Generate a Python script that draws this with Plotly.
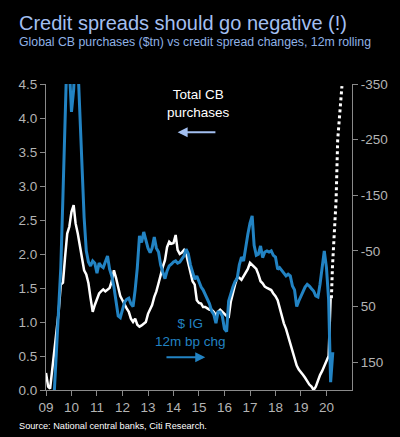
import plotly.graph_objects as go
import pandas as pd

# Monthly from Jan 2009
cb_purchases = [0.25, 0.05, 0.02, 0.3, 0.6, 0.85, 1.15, 1.55, 1.58, 1.95, 2.3, 2.4,
                2.62, 2.72, 2.45, 2.3, 2.1, 1.9, 1.76, 1.7, 1.57, 1.35, 1.15, 1.25,
                1.35, 1.42, 1.45, 1.48, 1.45, 1.47, 1.5, 1.6, 1.76, 1.65, 1.5, 1.38,
                1.32, 1.25, 1.2, 1.15, 1.05, 1.0, 1.05, 0.96, 0.93, 0.95, 0.98, 1.0,
                1.12, 1.18, 1.25, 1.37, 1.45, 1.57, 1.7, 1.81, 1.91, 2.1, 2.18, 2.15,
                2.16, 2.28, 2.06, 2.0, 2.02, 2.06, 2.0, 1.85, 1.75, 1.6, 1.55, 1.32,
                1.28, 1.27, 1.22, 1.22, 1.2, 1.18, 1.18, 1.15, 1.1, 1.15, 1.18, 1.15,
                1.13, 1.1, 1.06, 1.3, 1.44, 1.55, 1.65, 1.65, 1.62, 1.68, 1.72, 1.78,
                1.87, 1.84, 1.81, 1.78, 1.7, 1.6, 1.57, 1.52, 1.5, 1.48, 1.47, 1.42,
                1.38, 1.32, 1.2, 1.1, 0.98, 0.9, 0.8, 0.7, 0.6, 0.5, 0.36, 0.3,
                0.25, 0.22, 0.18, 0.12, 0.08, 0.05, 0.0, 0.05, 0.15, 0.22, 0.28, 0.35,
                0.42, 0.5, 1.35]

ig_bp_chg = [350, 320, 290, 250, 200, 120, 40, -20, -150, -330, -420, -380,
             -300, -340, -420, -390, -290, -200, -110, -50, -30, -23, -32, -28,
             -10, -28, -23, -20, -30, -41, -17, -5, 15, 42, 67, 70,
             58, 42, 37, 35, 45, 50, 20, -20, -77, -65, -84, -70,
             -55, -47, -55, -75, -55, -48, -25, -12, 0, -14, -23, -26,
             -30, -32, -28, -30, -35, -41, -53, -45, -25, -10, 1, -5,
             5, 15, 20, 28, 35, 45, 58, 64, 80, 60, 60, 67,
             90, 95, 40, 25, 15, 5, 0, -25, -39, -32, -60, -80,
             -100, -113, -60, -42, -44, -59, -38, -48, -50, -48, -50, -42,
             -39, -17, -20, -14, -10, -5, -8, -5, 13, 20, 50, 40,
             31, 20, 15, 10, 13, 18, 22, 31, 33, 10, -25, -50,
             -20, 37, 186, 132]

proj_dates = ["2020-03-12", "2020-03-27", "2020-05-18", "2020-06-10", "2020-08-10"]
proj_values = [1.35, 1.81, 2.79, 3.68, 4.47]

year_ticks = [f"{y}-01-01" for y in range(2009, 2021)]
year_labels = [f"{y % 100:02d}" for y in range(2009, 2021)]
right_ticks = [-350, -250, -150, -50, 50, 150]
right_labels = ["-350", "-250", "-150", "-50", "50", "150"]

cb_dates = pd.date_range("2009-01-01", periods=len(cb_purchases), freq="MS")
ig_dates = pd.date_range("2009-01-01", periods=len(ig_bp_chg), freq="MS")

FONT = "Arial, Liberation Sans, sans-serif"
BLUE = "#2283c3"
AXC = "#8a8a8a"
TICKC = "#b4b4b4"
TF = 13.5

fig = go.Figure()
fig.add_trace(go.Scatter(x=cb_dates, y=cb_purchases, mode="lines",
                         line=dict(color="white", width=2.5), yaxis="y", showlegend=False))
fig.add_trace(go.Scatter(x=proj_dates, y=proj_values, mode="lines",
                         line=dict(color="white", width=3, dash="dot"), yaxis="y", showlegend=False))
fig.add_trace(go.Scatter(x=ig_dates, y=ig_bp_chg, mode="lines",
                         line=dict(color=BLUE, width=3), yaxis="y2", showlegend=False))

fig.update_layout(
    width=400, height=437,
    paper_bgcolor="black", plot_bgcolor="black",
    margin=dict(l=46, r=43, t=84, b=47),
    font=dict(family=FONT, color=TICKC, size=TF),
    xaxis=dict(range=["2009-01-01", "2021-01-01"], tickvals=year_ticks, ticktext=year_labels,
               showgrid=False, zeroline=False, showline=True, linecolor=AXC, linewidth=1,
               ticks="outside", ticklen=5, tickcolor=AXC, tickfont=dict(size=TF, color=TICKC)),
    yaxis=dict(range=[0, 4.5], tickvals=[0, 0.5, 1, 1.5, 2, 2.5, 3, 3.5, 4, 4.5],
               tickformat=".1f", showgrid=False, zeroline=False, showline=True,
               linecolor=AXC, linewidth=1, ticks="outside", ticklen=5, tickcolor=AXC,
               tickfont=dict(size=TF, color=TICKC)),
    yaxis2=dict(range=[200, -350], tickvals=right_ticks, ticktext=right_labels,
                overlaying="y", side="right",
                showgrid=False, zeroline=False, showline=True, linecolor=AXC, linewidth=1,
                ticks="outside", ticklen=5, tickcolor=AXC, tickfont=dict(size=TF, color=TICKC)),
)

fig.add_annotation(xref="paper", yref="paper", x=-0.094, y=1.158, xanchor="left", yanchor="bottom",
                   text="Credit spreads should go negative (!)", showarrow=False,
                   font=dict(size=20, color="#a3bff0", family=FONT))
fig.add_annotation(xref="paper", yref="paper", x=-0.094, y=1.107, xanchor="left", yanchor="bottom",
                   text="Global CB purchases ($tn) vs credit spread changes, 12m rolling", showarrow=False,
                   font=dict(size=12.3, color="#8fb2e6", family=FONT))
fig.add_annotation(xref="paper", yref="paper", x=-0.094, y=-0.095, xanchor="left", yanchor="top",
                   text="Source: National central banks, Citi Research.", showarrow=False,
                   font=dict(size=9.2, color="white", family=FONT))

fig.add_annotation(x="2014-12-25", y=4.22, xref="x", yref="y",
                   text="Total CB<br>purchases", showarrow=False,
                   font=dict(size=13.5, color="white", family=FONT))
fig.add_annotation(x="2014-03-01", y=3.79, ax="2015-09-15", ay=3.79, xref="x", yref="y",
                   axref="x", ayref="y", text="", showarrow=True, arrowhead=2, arrowsize=1,
                   arrowwidth=2, arrowcolor="#a3bff0")

fig.add_annotation(x="2014-09-01", y=0.85, xref="x", yref="y",
                   text="$ IG<br>12m bp chg", showarrow=False,
                   font=dict(size=13.5, color=BLUE, family=FONT))
fig.add_annotation(x="2015-04-01", y=0.48, ax="2013-09-01", ay=0.48, xref="x", yref="y",
                   axref="x", ayref="y", text="", showarrow=True, arrowhead=2, arrowsize=1,
                   arrowwidth=2, arrowcolor=BLUE)

fig.write_html("out.html", config={"displayModeBar": False},
               post_script="document.body.style.margin='0';")
